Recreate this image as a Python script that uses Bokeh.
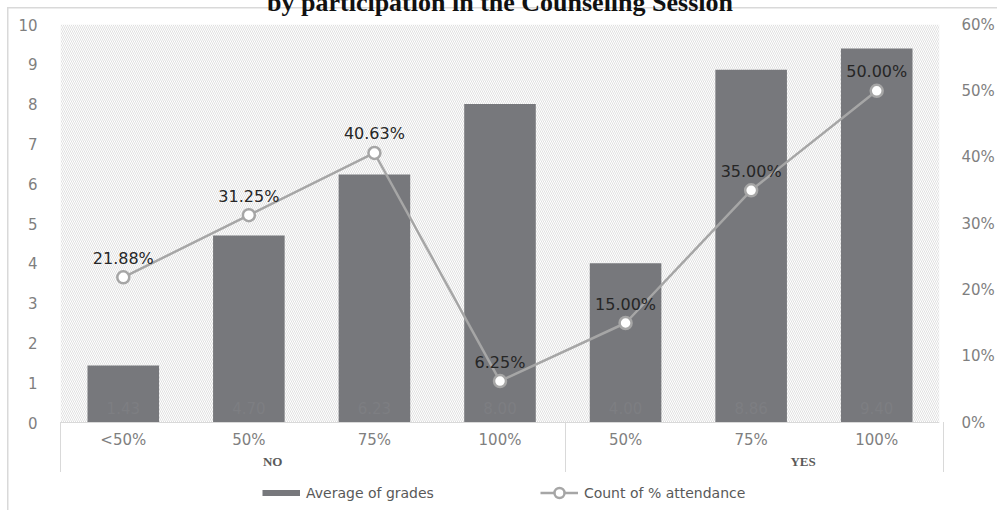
import numpy as np
from bokeh.plotting import figure
from bokeh.models import (FactorRange, Range1d, LinearAxis, FixedTicker, PrintfTickFormatter,
                          ColumnDataSource, BoxAnnotation, Legend, LegendItem, Title)
from bokeh.core.properties import value
from bokeh.embed import file_html
from bokeh.resources import INLINE

# ---- data -------------------------------------------------------------
session = ["NO", "NO", "NO", "NO", "YES", "YES", "YES"]
attendance = ["<50%", "50%", "75%", "100%", "50%", "75%", "100%"]
avg_grades = [1.43, 4.70, 6.23, 8.00, 4.00, 8.86, 9.40]
pct_attendance = [21.88, 31.25, 40.63, 6.25, 15.00, 35.00, 50.00]
grade_ticks = [0, 1, 2, 3, 4, 5, 6, 7, 8, 9, 10]
pct_ticks = [0, 10, 20, 30, 40, 50, 60]
title_text = "by participation in the Counseling Session"

BAR = "#77787c"
LINE = "#a6a6a6"
TICK = "#7f7f7f"
RULE = "#d9d9d9"
SANS = "DejaVu Sans"

# ---- layout (px) --------------------------------------------------------
W, H = 997, 510
TOP_CUT = 30                 # the page starts this many px below the canvas top
FRAME_TOP, ZERO_Y = 24, 422  # top of the grade scale and its zero line
FRAME_L, FRAME_R = 60, 943
# the frame runs to the bottom edge so the category axis and legend live inside it
G_MAX, P_MAX = 10, 60
g_min = G_MAX - G_MAX * (H - FRAME_TOP) / (ZERO_Y - FRAME_TOP)
p_min = g_min * P_MAX / G_MAX

# group captions sit off-centre under their groups
EM = "\u2003"
group_caption = {"NO": "NO" + EM * 6, "YES": EM * 8 + "YES"}

factors = [(group_caption[g], a) for g, a in zip(session, attendance)]
src = ColumnDataSource(dict(
    x=factors,
    grade=avg_grades,
    pct=pct_attendance,
    grade_lbl=[f"{v:.2f}" for v in avg_grades],
    pct_lbl=[f"{v:.2f}%" for v in pct_attendance],
))

p = figure(width=W, height=H + TOP_CUT,
           x_range=FactorRange(*factors, factor_padding=0, group_padding=0, range_padding=0),
           y_range=Range1d(g_min, G_MAX),
           output_backend="svg", toolbar_location=None,
           min_border_left=FRAME_L, min_border_right=W - FRAME_R,
           min_border_top=FRAME_TOP + TOP_CUT, min_border_bottom=0)
p.extra_y_ranges = {"pct": Range1d(p_min, P_MAX)}
p.grid.visible = False
p.outline_line_color = None
p.background_fill_alpha = 0
p.border_fill_color = None


# chart border (left/top) and the category dividers, drawn behind the canvas
def rule(x, y, w, h):
    return f"linear-gradient({RULE},{RULE}) {x}px {y}px / {w}px {h}px no-repeat"


group_edge = FRAME_L + (FRAME_R - FRAME_L) * session.count("NO") / len(session)
p.styles = {
    "margin-top": f"-{TOP_CUT}px",
    "background": ", ".join([
        rule(7, 7 + TOP_CUT, 1.5, 800),
        rule(7, 7 + TOP_CUT, 1200, 1.5),
        rule(FRAME_L, ZERO_Y + TOP_CUT, 1, 50),
        rule(round(group_edge), ZERO_Y + TOP_CUT, 1, 50),
        rule(FRAME_R, ZERO_Y + TOP_CUT, 1, 50),
    ]) + ", white",
}

# title, only its lower part fits on the page
p.title = Title(text=title_text, align="center", vertical_align="bottom", standoff=15,
                text_font="Liberation Serif", text_font_style="bold",
                text_font_size="26px", text_color="#111111", offset=9)

# hatched plot area
p.add_layout(BoxAnnotation(bottom=0, top=G_MAX, fill_alpha=0, line_alpha=0, hatch_pattern="\\",
                           hatch_color="#d2d2d2", hatch_scale=4, hatch_weight=0.7,
                           level="underlay"))

# axes
p.yaxis.ticker = FixedTicker(ticks=grade_ticks)
ya = p.yaxis[0]
ya.axis_line_color = None
ya.major_tick_line_color = None
ya.minor_tick_line_color = None
ya.major_label_standoff = 17
ya.major_label_text_font = SANS
ya.major_label_text_font_size = "15px"
ya.major_label_text_color = TICK

right = LinearAxis(y_range_name="pct", ticker=FixedTicker(ticks=pct_ticks),
                   formatter=PrintfTickFormatter(format="%d%%"),
                   axis_line_color=None, major_tick_line_color=None, minor_tick_line_color=None,
                   major_label_standoff=16, major_label_text_font=SANS,
                   major_label_text_font_size="15px", major_label_text_color=TICK)
p.add_layout(right, "right")

xa = p.xaxis[0]
xa.fixed_location = 0
xa.axis_line_color = RULE
xa.major_tick_line_color = None
xa.minor_tick_line_color = None
xa.major_label_standoff = 2
xa.major_label_text_font = SANS
xa.major_label_text_font_size = "15px"
xa.major_label_text_color = TICK
xa.group_text_font = "Liberation Serif"
xa.group_text_font_style = "bold"
xa.group_text_font_size = "13px"
xa.group_text_color = "#595959"
xa.separator_line_color = None

# bars with their values
p.vbar(x="x", top="grade", width=0.57, source=src, fill_color=BAR, line_color=None)
p.text(x="x", y=0, text="grade_lbl", source=src, y_offset=-15,
       text_align="center", text_baseline="middle",
       text_font=value(SANS), text_font_size="15px", text_color="#7d7e82")

# attendance line
ln = p.line(x="x", y="pct", source=src, y_range_name="pct", line_color=LINE, line_width=2.5)
mk = p.scatter(x="x", y="pct", source=src, y_range_name="pct", marker="circle", size=12,
               fill_color="white", line_color=LINE, line_width=2.5)
p.text(x="x", y="pct", text="pct_lbl", source=src, y_range_name="pct", y_offset=-19,
       text_align="center", text_baseline="middle",
       text_font=value(SANS), text_font_size="16px", text_color="#262626")

# legend under the axis; the bar entry uses a flat swatch (a line with no visible points)
swatch = p.line(x=factors, y=np.full(len(factors), np.nan), line_color=BAR,
                line_width=6, line_cap="butt")
legend = Legend(items=[LegendItem(label="Average of grades", renderers=[swatch]),
                       LegendItem(label="Count of % attendance", renderers=[ln, mk])],
                orientation="horizontal", location=(262 - FRAME_L, 5),
                border_line_color=None, background_fill_alpha=0, padding=0, margin=0,
                spacing=106, label_standoff=6, label_text_font=SANS,
                label_text_font_size="14px", label_text_color="#595959",
                glyph_width=38, glyph_height=25, label_height=25)
p.add_layout(legend, "center")

open("out.html", "w").write(file_html(p, INLINE))
